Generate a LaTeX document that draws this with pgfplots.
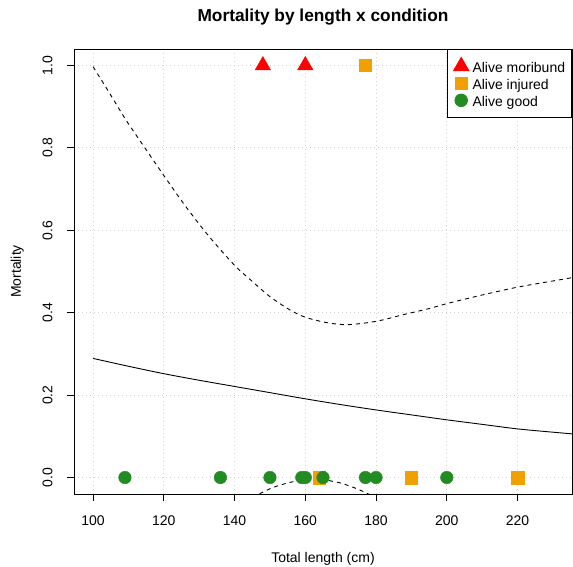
\documentclass[border=0pt]{standalone}
\usepackage{pgfplots}
\pgfplotsset{compat=1.18}
\usepackage{fontspec}
\setmainfont{Liberation Sans}
\definecolor{mred}{RGB}{255,0,0}
\definecolor{morange}{RGB}{240,160,0}
\definecolor{mgreen}{RGB}{34,139,34}
\definecolor{gridgray}{RGB}{211,211,211}
\begin{document}
\begin{tikzpicture}[x=1pt,y=1pt]
\path[use as bounding box] (-74,-73) rectangle (499,494);
\begin{axis}[
  at={(0,0)}, anchor=south west,
  scale only axis, width=498pt, height=445pt,
  xmin=94.6, xmax=235.4, ymin=-0.04, ymax=1.04,
  xtick={100,120,...,220}, ytick={0,0.2,...,1.0},
  axis line style={line width=0.9pt},
  tick style={line width=0.9pt, black},
  tick align=outside, major tick length=7pt,
  xtick pos=left, ytick pos=left,
  grid=major, grid style={gridgray, line width=0.9pt, dash pattern=on 1pt off 3pt},
  /pgf/number format/assume math mode=true,
  yticklabel={\pgfmathprintnumber[fixed,fixed zerofill,precision=1]{\tick}},
  xticklabel={\pgfmathprintnumber[fixed,precision=0]{\tick}},
  ticklabel style={font=\fontsize{14}{16}\selectfont},
  xticklabel style={anchor=north, inner sep=0pt, text height=10pt},
  yticklabel style={rotate=90, anchor=south, inner sep=0pt, text depth=0pt},
  xticklabel shift=14.5pt,
  yticklabel shift=14.5pt,
  title={Mortality by length x condition},
  title style={font=\fontsize{17.3}{20}\selectfont\bfseries, at={(0.5,1)}, anchor=base, yshift=21.3pt, inner sep=0pt},
  xlabel={Total length (cm)},
  xlabel style={font=\fontsize{14}{16}\selectfont, at={(axis description cs:0.5,0)}, anchor=base, yshift=-68.7pt, inner sep=0pt},
  ylabel={Mortality},
  ylabel style={font=\fontsize{14}{16}\selectfont, at={([xshift=-53pt]axis description cs:0,0.5)}, anchor=base, inner sep=0pt},
  legend style={at={(1,1)}, anchor=north east, draw=black, line width=0.8pt, fill=white,
    inner xsep=6.5pt, inner ysep=4pt, row sep=-8.9pt, column sep=3.5pt,
    font=\fontsize{14}{16}\selectfont,
    nodes={inner sep=0pt, text height=19.3pt, text depth=6.6pt}},
  legend cell align=left,
]
\addplot[only marks, mark=triangle*, mark size=9pt, mred, mark options={fill=mred, draw=mred}]
  coordinates {(148,1) (160,1)};
\addlegendentry{Alive moribund}
\addplot[only marks, mark=square*, mark size=6.2pt, morange, mark options={fill=morange, draw=morange}]
  coordinates {(164,0) (190,0) (220,0) (177,1)};
\addlegendentry{Alive injured}
\addplot[only marks, mark=*, mark size=6.3pt, mgreen, mark options={fill=mgreen, draw=mgreen}]
  coordinates {(109,0) (136,0) (150,0) (159,0) (160,0) (165,0) (177,0) (180,0) (200,0)};
\addlegendentry{Alive good}
% fitted curve
\addplot[black, line width=0.9pt, smooth, forget plot] coordinates {
 (100,0.289) (110,0.270) (120,0.252) (130,0.236) (140,0.221) (150,0.206)
 (160,0.191) (170,0.177) (180,0.164) (190,0.152) (200,0.140) (210,0.129)
 (220,0.118) (230,0.110) (235.4,0.106)};
% upper CI
\addplot[black, line width=0.9pt, dash pattern=on 4pt off 4pt, smooth, forget plot] coordinates {
 (100,0.997) (104.5,0.935) (109.2,0.869) (114,0.808) (120,0.733) (126,0.660)
 (132.6,0.587) (140,0.515) (145,0.476) (150,0.439) (155.6,0.407) (160,0.389)
 (166,0.376) (172,0.371) (180,0.379) (187.6,0.395) (195,0.410) (200,0.422)
 (210,0.443) (220,0.462) (230,0.477) (235.4,0.485)};
% lower CI
\addplot[black, line width=0.9pt, dash pattern=on 4pt off 4pt, smooth, forget plot] coordinates {
 (143,-0.056) (146.7,-0.041) (150.9,-0.024) (155.6,-0.012) (160,-0.005) (164,-0.004)
 (169.8,-0.013) (174.5,-0.027) (178.1,-0.041) (182,-0.058)};
\end{axis}
\end{tikzpicture}
\end{document}
